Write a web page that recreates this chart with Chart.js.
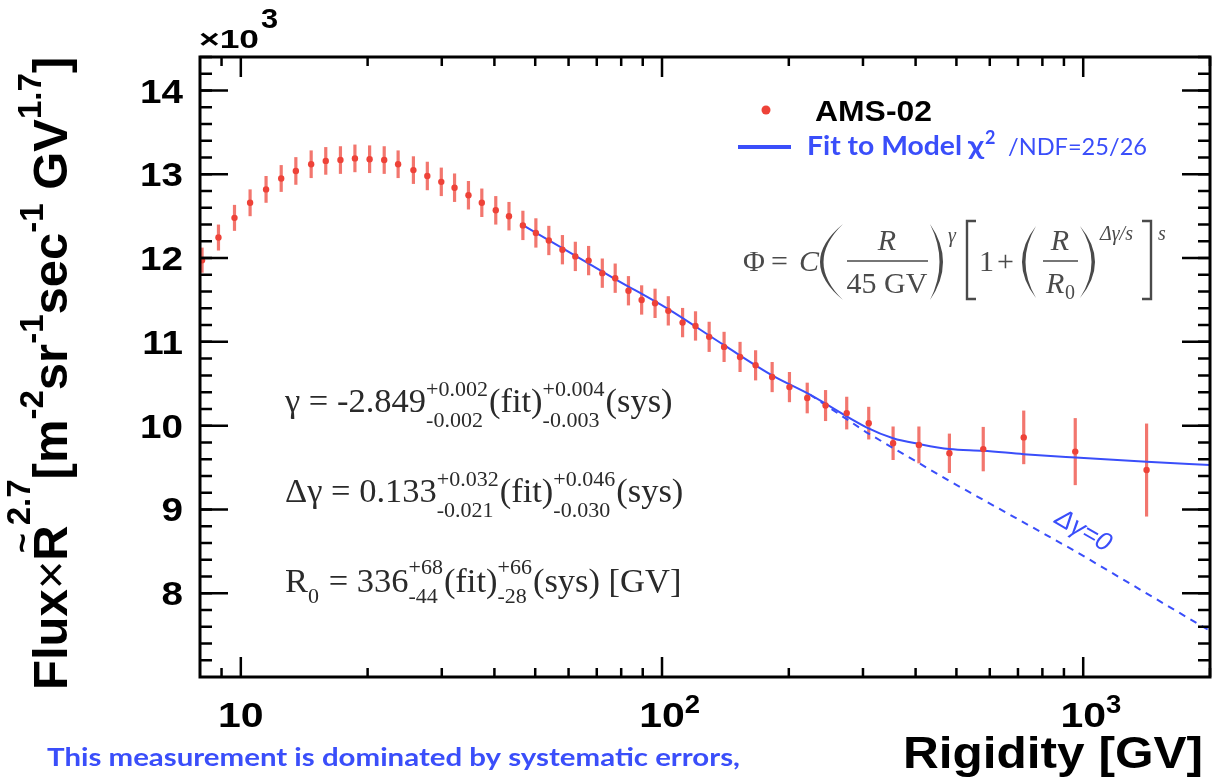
<!DOCTYPE html>
<html>
<head>
<meta charset="utf-8">
<script src="https://cdn.jsdelivr.net/npm/chart.js@4.4.1/dist/chart.umd.min.js"></script>
<style>
  html, body { margin: 0; padding: 0; background: #fff; }
  #wrap { position: relative; width: 1214px; height: 781px; }
</style>
</head>
<body>
<div id="wrap"><canvas id="fluxChart"></canvas></div>
<script>
//////// Data ////////
const rigidity = [8.09, 8.85, 9.66, 10.52, 11.48, 12.47, 13.51, 14.69, 15.91, 17.24,
  18.66, 20.22, 21.9, 23.63, 25.69, 27.72, 29.92, 32.17, 34.71, 37.34,
  40.3, 43.32, 46.74, 50.18, 53.86, 58.02, 62.26, 66.95, 72.15, 77.42,
  83.24, 89.46, 96.27, 103.5, 111.9, 120.1, 129.4, 140.4, 153.2, 166.8,
  182.6, 200.7, 221.2, 244.5, 274.5, 309.6, 353.7, 407.3, 481.2, 579.0,
  722.4, 957.4, 1414];
const flux = [11.975, 12.245, 12.48, 12.66, 12.82, 12.95, 13.04, 13.12, 13.16, 13.17,
  13.19, 13.18, 13.17, 13.12, 13.05, 12.98, 12.91, 12.84, 12.75, 12.66,
  12.57, 12.5, 12.39, 12.3, 12.21, 12.1, 12.02, 11.97, 11.82, 11.76,
  11.61, 11.5, 11.46, 11.37, 11.23, 11.19, 11.06, 10.94, 10.82, 10.72,
  10.58, 10.46, 10.33, 10.24, 10.15, 10.03, 9.79, 9.77, 9.67, 9.72,
  9.86, 9.69, 9.47];
const fluxErr = [0.15, 0.155, 0.155, 0.16, 0.16, 0.16, 0.165, 0.165, 0.165, 0.165,
  0.165, 0.165, 0.165, 0.165, 0.165, 0.17, 0.17, 0.17, 0.17, 0.17,
  0.17, 0.17, 0.175, 0.175, 0.175, 0.175, 0.175, 0.175, 0.175, 0.175,
  0.175, 0.175, 0.175, 0.175, 0.175, 0.175, 0.18, 0.18, 0.18, 0.18,
  0.18, 0.18, 0.183, 0.185, 0.195, 0.195, 0.2, 0.22, 0.235, 0.265,
  0.32, 0.4, 0.555];

// fit to model (solid) and the delta-gamma = 0 extrapolation (dashed)
const fitR = [46.1, 58.0, 77.4, 103.5, 140.4, 182.6, 224.5, 305.7,
  353.7, 408.7, 481.2, 579, 722.4, 959, 1414, 2000];
const fitFlux = [12.41, 12.12, 11.75, 11.39, 10.96, 10.6, 10.37, 9.98,
  9.85, 9.78, 9.72, 9.7, 9.66, 9.62, 9.57, 9.53];
const noBreakR = [224.5, 305.7, 481.2, 959, 2000];
const noBreakFlux = [10.37, 9.92, 9.34, 8.5, 7.55];

// axis ticks
const yMajor = [8, 9, 10, 11, 12, 13, 14];
const yMinorStep = 0.2;
const xMajor = [10, 100, 1000];
const xMajorLabels = [["10", ""], ["10", "2"], ["10", "3"]];
const xMinor = [9, 20, 30, 40, 50, 60, 70, 80, 90, 200, 300, 400, 500, 600, 700, 800, 900, 2000];

const RED = "rgb(238, 66, 56)";
const BLUE = "rgb(58, 78, 250)";
const GREY = "#4a4a4a";
const sansB = (s) => `bold ${s}px "Liberation Sans", Arial, sans-serif`;
const serif = (s) => `${s}px "Liberation Serif", "Times New Roman", serif`;
const serifI = (s) => `italic ${s}px "Liberation Serif", "Times New Roman", serif`;
const lato = (s, w) => `${w || ""} ${s}px Lato, "Noto Sans", sans-serif`;

////////// Error bars under the points //////////
const errorBars = {
  id: "errorBars",
  beforeDatasetsDraw(chart) {
    const { ctx, chartArea, scales } = chart;
    ctx.save();
    ctx.beginPath();
    ctx.rect(chartArea.left, chartArea.top, chartArea.right - chartArea.left, chartArea.bottom - chartArea.top);
    ctx.clip();
    ctx.strokeStyle = "rgba(238, 72, 62, 0.75)";
    ctx.lineWidth = 3.2;
    rigidity.forEach((r, i) => {
      const px = scales.x.getPixelForValue(r);
      ctx.beginPath();
      ctx.moveTo(px, scales.y.getPixelForValue(flux[i] - fluxErr[i]));
      ctx.lineTo(px, scales.y.getPixelForValue(flux[i] + fluxErr[i]));
      ctx.stroke();
    });
    ctx.restore();
  },
};

// horizontally stretched text, the slide was squeezed
const stretchText = function (ctx, text, x, y, sx) {
  ctx.save();
  ctx.translate(x, y);
  ctx.scale(sx, 1);
  ctx.fillText(text, 0, 0);
  ctx.restore();
};
const fitWidth = function (ctx, text, x, y, width) {
  stretchText(ctx, text, x, y, width / ctx.measureText(text).width);
};

// text with stacked super/subscripts
const drawScript = function (ctx, x, y, parts, big, small, supDy, subDy) {
  parts.forEach((p) => {
    ctx.font = big;
    ctx.fillText(p.t, x, y);
    x += ctx.measureText(p.t).width;
    if (p.sup || p.sub) {
      ctx.font = small;
      const w = Math.max(ctx.measureText(p.sup || "").width, ctx.measureText(p.sub || "").width);
      if (p.sup) ctx.fillText(p.sup, x, y + supDy);
      if (p.sub) ctx.fillText(p.sub, x, y + subDy);
      x += w + 1;
    }
  });
};

// tall parenthesis: x0 = tips, xm = bulge
const paren = function (ctx, x0, xm, y0, y1) {
  const c = 2 * xm - x0;
  const d = xm < x0 ? 7 : -7;
  ctx.beginPath();
  ctx.moveTo(x0, y0);
  ctx.quadraticCurveTo(c, (y0 + y1) / 2, x0, y1);
  ctx.quadraticCurveTo(c + d, (y0 + y1) / 2, x0, y0);
  ctx.fill();
};
const bracket = function (ctx, xv, xs, y0, y1) {
  ctx.beginPath();
  ctx.moveTo(xs, y0); ctx.lineTo(xv, y0); ctx.lineTo(xv, y1); ctx.lineTo(xs, y1);
  ctx.stroke();
};

////////// Frame, ROOT style ticks and all labels //////////
const rootFrame = {
  id: "rootFrame",
  afterDraw(chart) {
    const { ctx, chartArea: a, scales } = chart;
    const xs = scales.x, ys = scales.y;
    ctx.save();
    ctx.strokeStyle = "#000";
    ctx.lineWidth = 3;
    ctx.strokeRect(a.left, a.top, a.right - a.left, a.bottom - a.top);

    ctx.lineWidth = 2.5;
    const hTick = (v, len) => {
      const py = ys.getPixelForValue(v);
      ctx.beginPath();
      ctx.moveTo(a.left, py); ctx.lineTo(a.left + len, py);
      ctx.moveTo(a.right, py); ctx.lineTo(a.right - len, py);
      ctx.stroke();
    };
    const vTick = (v, len) => {
      const px = xs.getPixelForValue(v);
      ctx.beginPath();
      ctx.moveTo(px, a.bottom); ctx.lineTo(px, a.bottom - len);
      ctx.moveTo(px, a.top); ctx.lineTo(px, a.top + len);
      ctx.stroke();
    };
    for (let v = ys.min + yMinorStep; v < ys.max + 1e-6; v += yMinorStep) hTick(v, 12);
    yMajor.forEach((v) => hTick(v, 28));
    xMinor.forEach((v) => vTick(v, 9));
    xMajor.forEach((v) => vTick(v, 20));

    // tick labels
    ctx.fillStyle = "#000";
    ctx.textBaseline = "alphabetic";
    ctx.textAlign = "right";
    ctx.font = sansB(33);
    yMajor.forEach((v) => stretchText(ctx, String(v), 183, ys.getPixelForValue(v) + 12, 1.17));
    xMajor.forEach((v, i) => {
      const px = xs.getPixelForValue(v);
      ctx.textAlign = "center";
      ctx.font = sansB(35);
      stretchText(ctx, xMajorLabels[i][0], px, 727, 1.17);
      if (xMajorLabels[i][1]) {
        const w = ctx.measureText(xMajorLabels[i][0]).width * 1.17;
        ctx.textAlign = "left";
        ctx.font = sansB(25);
        stretchText(ctx, xMajorLabels[i][1], px + w / 2, 713, 1.1);
      }
    });
    ctx.textAlign = "left";
    ctx.font = sansB(25);
    fitWidth(ctx, "×10", 199, 48, 60);
    ctx.font = sansB(28);
    stretchText(ctx, "3", 261, 28, 1.1);

    // axis titles
    ctx.font = sansB(44);
    fitWidth(ctx, "Rigidity [GV]", 903, 768, 300);

    ctx.save();
    ctx.translate(67, 690);
    ctx.rotate(-Math.PI / 2);
    ctx.textAlign = "left";
    let u = 0;
    const seg = (t, f, dv) => { ctx.font = f; ctx.fillText(t, u, dv); u += ctx.measureText(t).width; };
    seg("Flux", sansB(49), 0);
    seg("×", `${49}px "Liberation Sans", Arial, sans-serif`, 0);
    ctx.font = sansB(49);
    const rW = ctx.measureText("R").width;
    ctx.font = sansB(34);
    const tW = ctx.measureText("~").width;
    ctx.fillText("~", u + (rW - tW) / 2, -34);
    seg("R", sansB(49), 0);
    seg("2.7", sansB(33), -37);
    seg("[m", sansB(49), 0);
    seg("-2", sansB(33), -24);
    seg("sr", sansB(49), 0);
    seg("-1", sansB(33), -24);
    seg("sec", sansB(49), 0);
    seg("-1", sansB(33), -24);
    seg(" GV", sansB(49), 0);
    seg("1.7", sansB(33), -26);
    seg("]", sansB(49), 0);
    ctx.restore();

    // legend
    ctx.fillStyle = RED;
    ctx.beginPath();
    ctx.arc(766, 110, 4.5, 0, Math.PI * 2);
    ctx.fill();
    ctx.fillStyle = "#000";
    ctx.font = sansB(29);
    fitWidth(ctx, "AMS-02", 815, 121, 117);
    ctx.strokeStyle = BLUE;
    ctx.lineWidth = 4;
    ctx.beginPath();
    ctx.moveTo(738, 147); ctx.lineTo(791, 147);
    ctx.stroke();
    ctx.fillStyle = BLUE;
    ctx.font = lato(26, "bold");
    fitWidth(ctx, "Fit to Model", 807, 155, 155);
    fitWidth(ctx, "χ", 968, 155, 16);
    ctx.font = lato(18, "bold");
    ctx.fillText("2", 985, 144);
    ctx.font = lato(23);
    fitWidth(ctx, "/NDF=25/26", 1008, 155, 139);

    // model formula
    ctx.fillStyle = GREY;
    ctx.strokeStyle = GREY;
    ctx.font = serif(30);
    ctx.fillText("Φ", 743, 271);
    ctx.fillText("=", 771, 271);
    ctx.font = serifI(30);
    ctx.fillText("C", 799, 271);
    paren(ctx, 843, 820, 224, 300);
    ctx.textAlign = "center";
    ctx.fillText("R", 887, 250);
    ctx.font = serif(30);
    ctx.fillText("45 GV", 887, 293);
    ctx.textAlign = "left";
    ctx.lineWidth = 1.5;
    ctx.beginPath();
    ctx.moveTo(847, 261); ctx.lineTo(928, 261);
    ctx.moveTo(1043, 261); ctx.lineTo(1078, 261);
    ctx.stroke();
    paren(ctx, 930, 943, 224, 300);
    ctx.font = serifI(20);
    ctx.fillText("γ", 948, 242);
    ctx.lineWidth = 2.4;
    bracket(ctx, 967, 976, 221, 299);
    ctx.font = serif(30);
    ctx.fillText("1", 979, 271);
    ctx.fillText("+", 997, 271);
    paren(ctx, 1036, 1022, 226, 298);
    ctx.font = serifI(30);
    ctx.textAlign = "center";
    ctx.fillText("R", 1060, 250);
    ctx.textAlign = "left";
    ctx.fillText("R", 1046, 293);
    ctx.font = serif(20);
    ctx.fillText("0", 1065, 299);
    paren(ctx, 1080, 1095, 226, 298);
    ctx.font = serifI(20);
    ctx.fillText("Δγ/s", 1100, 240);
    bracket(ctx, 1151, 1142, 221, 299);
    ctx.fillText("s", 1158, 240);

    // fit results
    ctx.fillStyle = "#2a2a2a";
    drawScript(ctx, 285, 412, [
      { t: "γ = -2.849", sup: "+0.002", sub: "-0.002" },
      { t: "(fit)", sup: "+0.004", sub: "-0.003" },
      { t: "(sys)" },
    ], serif(34.5), serif(22), -16, 15);
    drawScript(ctx, 285, 502, [
      { t: "Δγ = 0.133", sup: "+0.032", sub: "-0.021" },
      { t: "(fit)", sup: "+0.046", sub: "-0.030" },
      { t: "(sys)" },
    ], serif(34.5), serif(22), -16, 15);
    drawScript(ctx, 285, 592, [
      { t: "R", sub: "0" },
      { t: " = 336", sup: "+68", sub: "-44" },
      { t: "(fit)", sup: "+66", sub: "-28" },
      { t: "(sys) [GV]" },
    ], serif(34.5), serif(22), -18, 11);

    // delta gamma = 0 label on the dashed line
    ctx.save();
    ctx.translate(1083, 531);
    ctx.rotate((30 * Math.PI) / 180);
    ctx.fillStyle = BLUE;
    ctx.textAlign = "center";
    ctx.textBaseline = "middle";
    ctx.font = 'italic 26px "Liberation Sans", Arial, sans-serif';
    ctx.fillText("Δγ=0", 0, 0);
    ctx.restore();

    // footnote
    ctx.fillStyle = BLUE;
    ctx.textAlign = "left";
    ctx.font = lato(24, "bold");
    fitWidth(ctx, "This measurement is dominated by systematic errors,", 47, 766, 693);
    ctx.restore();
  },
};

const ctx = document.getElementById("fluxChart");
const fluxChart = new Chart(ctx, {
  type: "scatter",
  data: {
    datasets: [
      {
        label: "AMS-02",
        data: rigidity.map((r, i) => ({ x: r, y: flux[i] })),
        pointRadius: 3.2,
        pointBackgroundColor: RED,
        pointBorderWidth: 0,
        showLine: false,
      },
      {
        label: "Fit to Model",
        data: fitR.map((r, i) => ({ x: r, y: fitFlux[i] })),
        showLine: true,
        pointRadius: 0,
        borderColor: BLUE,
        borderWidth: 2,
        cubicInterpolationMode: "monotone",
      },
      {
        label: "Δγ=0",
        data: noBreakR.map((r, i) => ({ x: r, y: noBreakFlux[i] })),
        showLine: true,
        pointRadius: 0,
        borderColor: BLUE,
        borderWidth: 2,
        borderDash: [7, 6],
      },
    ],
  },
  options: {
    responsive: true,
    maintainAspectRatio: false,
    animation: false,
    layout: { padding: { top: 57, right: 0, left: 0, bottom: 0 } },
    scales: {
      x: {
        type: "logarithmic",
        min: 8,
        max: 2000,
        ticks: { display: false },
        grid: { display: false },
        border: { display: false },
        afterFit: (s) => { s.height = 104; },
      },
      y: {
        min: 7,
        max: 14.4,
        ticks: { display: false },
        grid: { display: false },
        border: { display: false },
        afterFit: (s) => { s.width = 200; },
      },
    },
    plugins: {
      legend: { display: false },
      tooltip: { enabled: false },
    },
  },
  plugins: [errorBars, rootFrame],
});
</script>
</body>
</html>
